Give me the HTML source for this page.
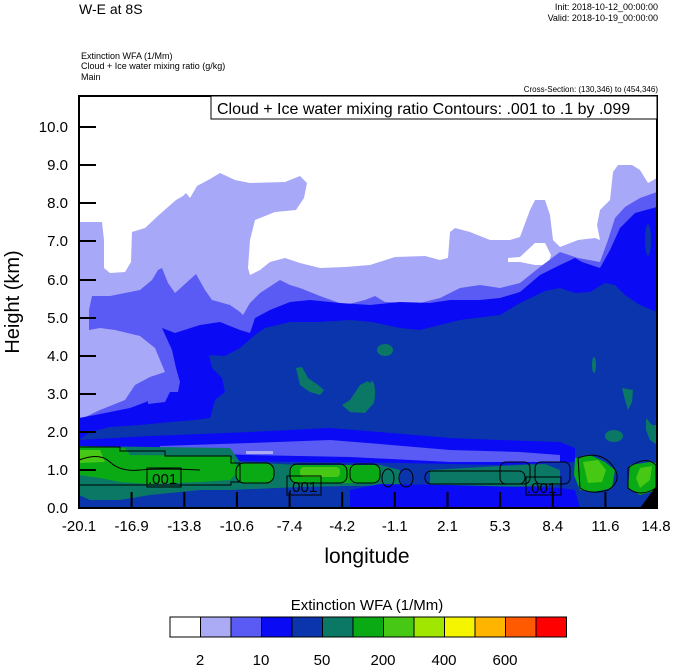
<!DOCTYPE html>
<html><head><meta charset="utf-8"><style>
body{margin:0;background:#fff;}
svg text{font-family:"Liberation Sans",sans-serif;}
</style></head><body>
<svg width="674" height="667" xmlns="http://www.w3.org/2000/svg">
<rect width="674" height="667" fill="#fff"/>
<g stroke="none">
<polygon fill="#a8a8f8" points="79,222 102,222 104,240 104,268 110,273 125,272 131,262 132,232 145,228 160,214 176,200 183,196 186,193 190,198 197,186 210,179 220,173 235,180 250,183 285,182 300,176 307,183 304,198 296,210 275,212 255,220 250,240 248,268 250,275 260,270 270,262 285,258 300,263 320,268 345,267 370,265 395,257 425,256 440,260 448,258 450,232 455,228 470,232 490,240 510,240 520,237 530,210 535,200 545,200 550,215 553,240 560,247 578,240 595,238 600,240 597,225 600,210 610,200 613,172 618,165 632,165 640,170 648,183 657,178 657,508 79,508"/>
<polygon fill="#fff" points="508,258 520,257 535,243 545,243 551,255 548,265 535,265 520,262 508,262"/>
<polygon fill="#5a5af5" points="89,330 89,310 92,296 110,296 140,290 152,280 158,270 162,268 168,283 175,293 185,284 196,274 205,290 212,300 230,305 240,312 243,315 250,303 260,293 280,280 290,285 300,288 320,296 345,305 365,300 375,296 385,302 420,303 440,298 460,288 480,285 500,288 520,283 540,267 560,252 578,258 600,262 608,240 615,218 625,207 640,198 657,192 657,508 79,508 79,420 100,410 125,400 135,385 150,377 165,372 160,360 155,348 140,336 115,330 100,328"/>
<polygon fill="#0a0af5" points="162,328 175,333 200,325 220,322 240,330 250,333 255,318 270,310 290,302 310,300 340,303 370,305 400,302 430,303 450,300 480,300 500,298 520,292 540,275 560,265 575,258 582,262 600,268 610,250 620,228 635,213 657,207 657,508 79,508 79,418 95,415 110,412 130,408 146,402 160,392 178,392 180,382 176,368 172,350"/>
<polygon fill="#5a5af5" points="146,388 160,385 170,392 165,402 148,404"/>
<polygon fill="#0a35ad" points="209,355 225,356 240,348 255,335 265,328 290,322 320,322 350,320 372,322 400,328 420,330 440,325 460,320 500,315 520,303 545,291 560,288 575,293 590,292 605,283 615,285 625,295 640,305 657,312 657,508 79,508 79,440 90,432 110,427 140,425 170,422 195,420 210,418 215,400 225,392 222,378 212,368"/>
<ellipse cx="648" cy="240" rx="3" ry="16" fill="#0a35ad"/>
<g fill="#0a7864">
<polygon points="296,368 302,367 308,378 318,385 324,390 320,395 310,392 300,385"/>
<polygon points="342,405 350,400 360,385 368,381 373,387 372,405 365,413 350,412"/>
<ellipse cx="385" cy="350" rx="8" ry="6"/>
<ellipse cx="372" cy="393" rx="3" ry="12"/>
<ellipse cx="594" cy="365" rx="2" ry="8"/>
<polygon points="622,388 633,390 632,402 628,410 625,400"/>
<ellipse cx="614" cy="436" rx="9" ry="6"/>
<polygon points="646,418 652,425 657,425 657,445 650,440 646,430"/>
</g>
<polygon fill="#0a0af5" points="79,440 150,436 250,432 330,428 380,432 450,438 500,440 560,442 575,448 575,462 500,465 400,463 300,462 200,460 79,458"/>
<polygon fill="#5a5af5" points="160,446 250,443 330,440 380,444 450,450 520,452 560,455 560,462 450,462 350,457 250,455 160,452"/>
<rect x="246" y="451" width="27" height="3" fill="#aaaaf5"/>
<polygon fill="#0a7864" points="79,446 230,448 240,462 300,465 380,465 400,470 400,485 300,487 230,490 200,490 150,495 120,500 90,500 79,495"/>
<polygon fill="#0aaa14" points="79,446 125,448 130,455 230,456 235,463 240,470 230,480 200,482 150,484 120,482 100,478 79,475"/>
<polygon fill="#46c814" points="79,450 100,450 105,462 79,463"/>
<rect x="236" y="463" width="38" height="20" rx="8" fill="#0aaa14"/>
<rect x="290" y="465" width="90" height="18" rx="6" fill="#0aaa14"/>
<rect x="300" y="467" width="40" height="10" rx="4" fill="#46c814"/>
<polygon fill="#0a7864" points="430,470 500,466 545,464 560,470 560,485 500,487 430,485"/>
<polygon fill="#0aaa14" points="575,458 590,455 605,462 615,470 612,488 595,492 580,490 574,475"/>
<polygon fill="#46c814" points="583,462 598,460 606,470 602,482 588,483"/>
<polygon fill="#0aaa14" points="630,465 650,462 657,463 657,490 640,495 628,488"/>
<polygon fill="#46c814" points="640,468 652,466 650,480 640,488 636,478"/>
<polygon fill="#0a0af5" points="350,490 380,484 450,485 520,487 560,488 575,490 580,508 350,508"/>
<polygon fill="#000" points="640,508 657,485 657,508"/>
</g>
<g fill="none" stroke="#000" stroke-width="1">
<path d="M79,447 H120 V451 H165 V456 H231 V463 H240 V482 H231 V485 H79"/>
<path d="M79,460 Q100,452 110,462 T140,470 T200,470"/>
<rect x="236" y="463" width="38" height="20" rx="8"/>
<rect x="290" y="464" width="57" height="19" rx="7"/>
<rect x="350" y="464" width="30" height="19" rx="7"/>
<ellipse cx="388" cy="478" rx="6" ry="9"/>
<ellipse cx="406" cy="478" rx="7" ry="9"/>
<rect x="425" y="471" width="100" height="13" rx="6"/>
<rect x="500" y="462" width="30" height="22" rx="6"/>
<rect x="535" y="462" width="35" height="22" rx="6"/>
<path d="M578,458 Q600,450 612,465 T608,490 Q590,495 580,488 Z"/>
<path d="M628,468 Q645,455 656,465 L656,488 Q640,498 628,488 Z"/>
</g>
<g fill="#000" font-size="15">
<rect x="147" y="468" width="34" height="19" fill="none" stroke="#000"/>
<text x="148" y="484">.001</text>
<rect x="287" y="476" width="34" height="19" fill="none" stroke="#000"/>
<text x="288" y="492">.001</text>
<rect x="526" y="477" width="35" height="18" fill="none" stroke="#000"/>
<text x="527" y="493">.001</text>
</g>
<rect x="79" y="96" width="578" height="412" fill="none" stroke="#000" stroke-width="2"/>
<rect x="211" y="96" width="446" height="23" fill="#fff" stroke="#000" stroke-width="1"/>
<text x="217" y="114" font-size="16">Cloud + Ice water mixing ratio Contours: .001 to .1 by .099</text>
<g stroke="#000" stroke-width="2">
<line x1="79" y1="508" x2="96" y2="508"/><line x1="79" y1="470" x2="96" y2="470"/><line x1="79" y1="432" x2="96" y2="432"/>
<line x1="79" y1="394" x2="96" y2="394"/><line x1="79" y1="356" x2="96" y2="356"/><line x1="79" y1="318" x2="96" y2="318"/>
<line x1="79" y1="280" x2="96" y2="280"/><line x1="79" y1="241" x2="96" y2="241"/><line x1="79" y1="203" x2="96" y2="203"/>
<line x1="79" y1="165" x2="96" y2="165"/><line x1="79" y1="127" x2="96" y2="127"/>
<line x1="131.6" y1="508" x2="131.6" y2="492"/><line x1="184.3" y1="508" x2="184.3" y2="492"/><line x1="236.9" y1="508" x2="236.9" y2="492"/>
<line x1="289.6" y1="508" x2="289.6" y2="492"/><line x1="342.2" y1="508" x2="342.2" y2="492"/><line x1="394.8" y1="508" x2="394.8" y2="492"/>
<line x1="447.5" y1="508" x2="447.5" y2="492"/><line x1="500.1" y1="508" x2="500.1" y2="492"/><line x1="552.8" y1="508" x2="552.8" y2="492"/>
<line x1="605.4" y1="508" x2="605.4" y2="492"/>
</g>
<g font-size="15" text-anchor="end" fill="#000">
<text x="68" y="513">0.0</text><text x="68" y="475">1.0</text><text x="68" y="437">2.0</text><text x="68" y="399">3.0</text>
<text x="68" y="361">4.0</text><text x="68" y="323">5.0</text><text x="68" y="285">6.0</text><text x="68" y="246">7.0</text>
<text x="68" y="208">8.0</text><text x="68" y="170">9.0</text><text x="68" y="132">10.0</text>
</g>
<g font-size="15" text-anchor="middle" fill="#000">
<text x="79" y="531">-20.1</text><text x="131.6" y="531">-16.9</text><text x="184.3" y="531">-13.8</text><text x="236.9" y="531">-10.6</text>
<text x="289.6" y="531">-7.4</text><text x="342.2" y="531">-4.2</text><text x="394.8" y="531">-1.1</text><text x="447.5" y="531">2.1</text>
<text x="500.1" y="531">5.3</text><text x="552.8" y="531">8.4</text><text x="605.4" y="531">11.6</text><text x="656" y="531">14.8</text>
</g>
<text x="367" y="563" font-size="21" text-anchor="middle">longitude</text>
<text transform="translate(19,302) rotate(-90)" font-size="20" text-anchor="middle">Height (km)</text>
<text x="79" y="14" font-size="14">W-E at 8S</text>
<text x="658" y="10" font-size="9" text-anchor="end">Init: 2018-10-12_00:00:00</text>
<text x="658" y="21" font-size="9" text-anchor="end">Valid: 2018-10-19_00:00:00</text>
<text x="81" y="59" font-size="9">Extinction WFA   (1/Mm)</text>
<text x="81" y="69" font-size="9">Cloud + Ice water mixing ratio    (g/kg)</text>
<text x="81" y="80" font-size="9">Main</text>
<text x="658" y="92" font-size="8" text-anchor="end">Cross-Section: (130,346) to (454,346)</text>
<text x="367" y="610" font-size="15" text-anchor="middle">Extinction WFA  (1/Mm)</text>
<g stroke="#000" stroke-width="1">
<rect x="170" y="617" width="30.5" height="20" fill="#ffffff"/>
<rect x="200.5" y="617" width="30.5" height="20" fill="#aaaaf5"/>
<rect x="231" y="617" width="30.5" height="20" fill="#5a5af5"/>
<rect x="261.5" y="617" width="30.5" height="20" fill="#0a0af5"/>
<rect x="292" y="617" width="30.5" height="20" fill="#0a35ad"/>
<rect x="322.5" y="617" width="30.5" height="20" fill="#0a7864"/>
<rect x="353" y="617" width="30.5" height="20" fill="#0aaa14"/>
<rect x="383.5" y="617" width="30.5" height="20" fill="#46c814"/>
<rect x="414" y="617" width="30.5" height="20" fill="#a0e600"/>
<rect x="444.5" y="617" width="30.5" height="20" fill="#f5f500"/>
<rect x="475" y="617" width="30.5" height="20" fill="#ffb400"/>
<rect x="505.5" y="617" width="30.5" height="20" fill="#ff5a00"/>
<rect x="536" y="617" width="30.5" height="20" fill="#ff0000"/>
</g>
<g font-size="15" text-anchor="middle">
<text x="200" y="665">2</text><text x="261" y="665">10</text><text x="322" y="665">50</text>
<text x="383" y="665">200</text><text x="444" y="665">400</text><text x="505" y="665">600</text>
</g>
</svg>
</body></html>
